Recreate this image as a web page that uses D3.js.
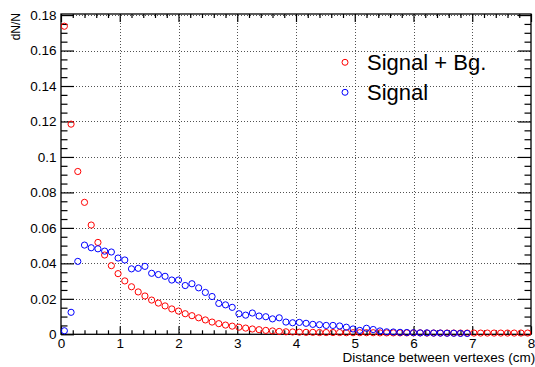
<!DOCTYPE html>
<html>
<head>
<meta charset="utf-8">
<script src="https://cdn.jsdelivr.net/npm/d3@7"></script>
<style>
  html, body { margin: 0; padding: 0; background: #fff; }
  svg { display: block; font-family: "Liberation Sans", Arial, Helvetica, sans-serif; }
</style>
</head>
<body>
<svg id="chart" width="535" height="367"></svg>
<script>
// ---- data (histogram: 70 bins from 0 to 8 cm) ----
const binLow = 0;
const binHigh = 8;
const nBins = 70;

const signalPlusBg = [
  0.1737, 0.1185, 0.0918, 0.0744, 0.0616, 0.0518, 0.0447, 0.0387, 0.0342, 0.0301,
  0.0268, 0.0239, 0.0216, 0.0193, 0.0176, 0.0160, 0.0143, 0.0131, 0.0116, 0.0105,
  0.0093, 0.0081, 0.0069, 0.0060, 0.0052, 0.0046, 0.0040, 0.0035, 0.0030, 0.0026,
  0.0022, 0.0019, 0.0016, 0.0014, 0.0013, 0.0012, 0.0011, 0.0011, 0.0010, 0.0010,
  0.0010, 0.0010, 0.0009, 0.0009, 0.0009, 0.0009, 0.0009, 0.0008, 0.0008, 0.0008,
  0.0008, 0.0008, 0.0008, 0.0008, 0.0007, 0.0007, 0.0007, 0.0007, 0.0007, 0.0007,
  0.0007, 0.0007, 0.0007, 0.0007, 0.0007, 0.0007, 0.0007, 0.0007, 0.0007, 0.0007
];

const signalOnly = [
  0.0020, 0.0124, 0.0411, 0.0503, 0.0488, 0.0482, 0.0469, 0.0464, 0.0430, 0.0419,
  0.0369, 0.0372, 0.0383, 0.0344, 0.0337, 0.0327, 0.0306, 0.0306, 0.0275, 0.0285,
  0.0262, 0.0236, 0.0213, 0.0174, 0.0166, 0.0152, 0.0116, 0.0108, 0.0120, 0.0103,
  0.0099, 0.0087, 0.0093, 0.0069, 0.0065, 0.0067, 0.0062, 0.0056, 0.0054, 0.0050,
  0.0050, 0.0047, 0.0040, 0.0030, 0.0022, 0.0034, 0.0027, 0.0019, 0.0014, 0.0013,
  0.0011, 0.0010, 0.0009, 0.0008, 0.0008, 0.0007, 0.0007, 0.0006, 0.0006, 0.0005,
  0.0005, null, null, null, null, null, null, null, null, null
];

const xTickValues = [0, 1, 2, 3, 4, 5, 6, 7, 8];
const yTickValues = [0, 0.02, 0.04, 0.06, 0.08, 0.1, 0.12, 0.14, 0.16, 0.18];
const yTickLabels = ["0", "0.02", "0.04", "0.06", "0.08", "0.1", "0.12", "0.14", "0.16", "0.18"];
const seriesNames = ["Signal + Bg.", "Signal"];
const seriesColors = ["#ff0000", "#0000ff"];
const xTitle = "Distance between vertexes (cm)";
const yTitle = "dN/N";

// ---- layout ----
const svg = d3.select("#chart");
const pL = 61, pR = 531, pT = 14, pB = 334.3;
const x = d3.scaleLinear().domain([binLow, binHigh]).range([pL, pR]);
const y = d3.scaleLinear().domain([0, 0.1806]).range([pB, pT]);
const binW = (binHigh - binLow) / nBins;

// grid
const grid = svg.append("g").attr("stroke", "#000").attr("stroke-width", 0.8)
  .attr("stroke-dasharray", "1,2").attr("opacity", 0.85);
xTickValues.slice(1, -1).forEach(v => {
  grid.append("line").attr("x1", Math.round(x(v)) + 0.5).attr("x2", Math.round(x(v)) + 0.5)
    .attr("y1", pT).attr("y2", pB);
});
yTickValues.slice(1).forEach(v => {
  grid.append("line").attr("x1", pL).attr("x2", pR)
    .attr("y1", Math.round(y(v)) + 0.5).attr("y2", Math.round(y(v)) + 0.5);
});

const xMinor = d3.range(0, 41).map(i => i * 0.2).filter(v => Math.abs(v - Math.round(v)) > 1e-9);
const yMinor = d3.range(0, 37).map(i => i * 0.005).filter(v => Math.abs(v / 0.02 - Math.round(v / 0.02)) > 1e-9 && v <= 0.1806);

function styleAxis(g) {
  g.select(".domain").remove();
  g.selectAll(".tick line").attr("stroke", "#000").attr("stroke-width", 1.2);
}

// bottom
svg.append("g").attr("transform", `translate(0,${pB})`)
  .call(d3.axisBottom(x).tickValues(xTickValues).tickSize(-8).tickPadding(4.3).tickFormat(d3.format("d")))
  .call(styleAxis)
  .call(g => g.selectAll("text").attr("font-size", "13.5px").attr("fill", "#000")
    .attr("font-family", "Liberation Sans, Arial, sans-serif"));
svg.append("g").attr("transform", `translate(0,${pB})`)
  .call(d3.axisBottom(x).tickValues(xMinor).tickSize(-4).tickFormat(""))
  .call(styleAxis);
// top
svg.append("g").attr("transform", `translate(0,${pT})`)
  .call(d3.axisTop(x).tickValues(xTickValues).tickSize(-8).tickFormat(""))
  .call(styleAxis);
svg.append("g").attr("transform", `translate(0,${pT})`)
  .call(d3.axisTop(x).tickValues(xMinor).tickSize(-4).tickFormat(""))
  .call(styleAxis);

// left
svg.append("g").attr("transform", `translate(${pL},0)`)
  .call(d3.axisLeft(y).tickValues(yTickValues).tickSize(-13).tickPadding(4.5)
    .tickFormat((d, i) => yTickLabels[i]))
  .call(styleAxis)
  .call(g => g.selectAll("text").attr("font-size", "13.5px").attr("fill", "#000")
    .attr("font-family", "Liberation Sans, Arial, sans-serif"));
svg.append("g").attr("transform", `translate(${pL},0)`)
  .call(d3.axisLeft(y).tickValues(yMinor).tickSize(-6.5).tickFormat(""))
  .call(styleAxis);
// right
svg.append("g").attr("transform", `translate(${pR},0)`)
  .call(d3.axisRight(y).tickValues(yTickValues).tickSize(-13).tickFormat(""))
  .call(styleAxis);
svg.append("g").attr("transform", `translate(${pR},0)`)
  .call(d3.axisRight(y).tickValues(yMinor).tickSize(-6.5).tickFormat(""))
  .call(styleAxis);

// frame
svg.append("rect").attr("x", pL).attr("y", pT)
  .attr("width", pR - pL).attr("height", pB - pT)
  .attr("fill", "none").attr("stroke", "#000").attr("stroke-width", 1.3);

// titles
svg.append("text").attr("x", 342.5).attr("y", 362).attr("text-anchor", "start")
  .attr("font-size", "13.5px").attr("fill", "#000").text(xTitle);
svg.append("text").attr("transform", "translate(19.5,13) rotate(-90)")
  .attr("text-anchor", "end").attr("font-size", "12px").attr("fill", "#000").text(yTitle);

// data points
const seriesList = [signalPlusBg, signalOnly];
seriesList.forEach((vals, s) => {
  svg.append("g").selectAll("circle")
    .data(vals.map((v, i) => ({ i, v })).filter(d => d.v !== null))
    .join("circle")
    .attr("cx", d => x(binLow + (d.i + 0.5) * binW))
    .attr("cy", d => y(d.v))
    .attr("r", 3.1)
    .attr("fill", "none")
    .attr("stroke", seriesColors[s])
    .attr("stroke-width", 1);
});

// legend
const legendY = [62.3, 92.3];
seriesNames.forEach((name, s) => {
  svg.append("circle").attr("cx", 345).attr("cy", legendY[s]).attr("r", 3)
    .attr("fill", "none").attr("stroke", seriesColors[s]).attr("stroke-width", 1);
  svg.append("text").attr("x", 367).attr("y", legendY[s] + 7.5)
    .attr("font-size", "22px").attr("fill", "#000").text(name);
});
</script>
</body>
</html>
